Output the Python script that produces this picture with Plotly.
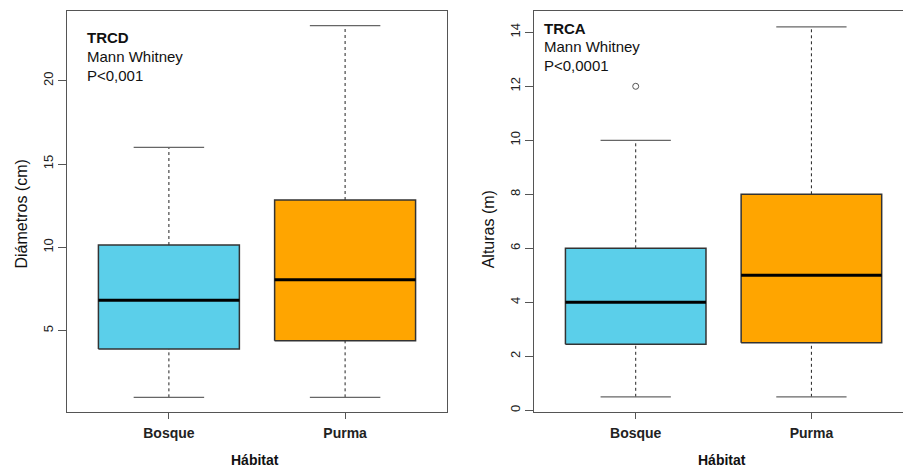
import plotly.graph_objects as go

# ---- data ----
categories = ["Bosque", "Purma"]
colors = ["#5BCFEA", "#FFA500"]

# TRCD: diameters (cm)
d_lower = [1.0, 1.0]
d_q1 = [3.9, 4.4]
d_median = [6.82, 8.06]
d_q3 = [10.14, 12.84]
d_upper = [16.0, 23.3]
d_outliers = [[], []]

# TRCA: heights (m)
h_lower = [0.5, 0.5]
h_q1 = [2.45, 2.5]
h_median = [4.0, 5.0]
h_q3 = [6.0, 8.0]
h_upper = [10.0, 14.2]
h_outliers = [[12.0], []]

BOX_W = 0.8
FONT = "Liberation Sans, Arial, sans-serif"

fig = go.Figure()


def add_panel(xa, ya, lower, q1, med, q3, upper, outliers):
    for i, cat in enumerate(categories):
        c = i + 1
        hw = BOX_W / 2
        # whiskers (dashed)
        for a, b in ((q3[i], upper[i]), (lower[i], q1[i])):
            fig.add_trace(go.Scatter(x=[c, c], y=[a, b], mode="lines",
                                     line=dict(color="#222", width=1, dash="3px,3px"),
                                     xaxis=xa, yaxis=ya, showlegend=False, hoverinfo="skip"))
        # caps
        for v in (upper[i], lower[i]):
            fig.add_trace(go.Scatter(x=[c - hw / 2, c + hw / 2], y=[v, v], mode="lines",
                                     line=dict(color="#666", width=1.2),
                                     xaxis=xa, yaxis=ya, showlegend=False, hoverinfo="skip"))
        # box
        fig.add_trace(go.Scatter(x=[c - hw, c + hw, c + hw, c - hw, c - hw],
                                 y=[q1[i], q1[i], q3[i], q3[i], q1[i]],
                                 mode="lines", fill="toself", fillcolor=colors[i],
                                 line=dict(color="#333", width=1.5),
                                 xaxis=xa, yaxis=ya, showlegend=False, name=cat))
        # median
        fig.add_trace(go.Scatter(x=[c - hw, c + hw], y=[med[i], med[i]], mode="lines",
                                 line=dict(color="#000", width=3),
                                 xaxis=xa, yaxis=ya, showlegend=False, hoverinfo="skip"))
        if outliers[i]:
            fig.add_trace(go.Scatter(x=[c] * len(outliers[i]), y=outliers[i], mode="markers",
                                     marker=dict(symbol="circle-open", size=6, color="#555",
                                                 line=dict(width=1)),
                                     xaxis=xa, yaxis=ya, showlegend=False))


add_panel("x", "y", d_lower, d_q1, d_median, d_q3, d_upper, d_outliers)
add_panel("x2", "y2", h_lower, h_q1, h_median, h_q3, h_upper, h_outliers)

W, H = 903, 468
L_LEFT, L_RIGHT = 66.7, 447.3
R_LEFT = 533.8
unit_r = 175.7

xcommon = dict(tickvals=[1, 2], ticktext=categories, showline=True, linecolor="#555",
               linewidth=1, ticks="outside", ticklen=6, tickcolor="#555", showgrid=False,
               zeroline=False, ticklabelstandoff=2,
               tickfont=dict(family=FONT, size=14, color="#222", weight="bold"))
ycommon = dict(showline=True, linecolor="#555", linewidth=1, ticks="outside", ticklen=8,
               tickcolor="#555", showgrid=False, zeroline=False, tickangle=-90,
               tickfont=dict(family=FONT, size=13, color="#222"))

fig.update_layout(
    width=W, height=H,
    margin=dict(l=0, r=0, t=11, b=56),
    paper_bgcolor="white", plot_bgcolor="white",
    xaxis=dict(domain=[L_LEFT / W, L_RIGHT / W], range=[0.42, 2.58], mirror=True, **xcommon),
    yaxis=dict(range=[0.12, 24.18], tick0=0, dtick=5, mirror=True, **ycommon),
    xaxis2=dict(domain=[R_LEFT / W, 1.0], range=[0.42, 0.42 + (W - R_LEFT) / unit_r],
                mirror=True, anchor="y2", **xcommon),
    yaxis2=dict(range=[-0.063, 14.789], tick0=0, dtick=2, mirror=False, anchor="x2", **ycommon),
)


def py(ypx):
    return (412 - ypx) / 401


ann = []
# stat labels
for x0, ys, lines in ((85, (37.7, 56.7, 75.0), ("<b>TRCD</b>", "Mann Whitney", "P&lt;0,001")),
                      (541.7, (28.3, 46.7, 65.0), ("<b>TRCA</b>", "Mann Whitney", "P&lt;0,0001"))):
    for yy, t in zip(ys, lines):
        ann.append(dict(x=x0 / W, y=py(yy), xref="paper", yref="paper", text=t, showarrow=False,
                        xanchor="left", yanchor="middle", font=dict(family=FONT, size=15, color="#111")))
# axis titles
ann.append(dict(x=21 / W, y=py(214.5), xref="paper", yref="paper", text="Diámetros (cm)",
                textangle=-90, showarrow=False, xanchor="center", yanchor="middle",
                font=dict(family=FONT, size=16, color="#111")))
ann.append(dict(x=488.3 / W, y=py(229), xref="paper", yref="paper", text="Alturas (m)",
                textangle=-90, showarrow=False, xanchor="center", yanchor="middle",
                font=dict(family=FONT, size=16, color="#111")))
ann.append(dict(x=255 / W, y=py(460), xref="paper", yref="paper", text="<b>Hábitat</b>",
                showarrow=False, xanchor="center", yanchor="middle",
                font=dict(family=FONT, size=14, color="#111")))
ann.append(dict(x=721.7 / W, y=py(460), xref="paper", yref="paper", text="<b>Hábitat</b>",
                showarrow=False, xanchor="center", yanchor="middle",
                font=dict(family=FONT, size=14, color="#111")))
fig.update_layout(annotations=ann)

fig.write_html("out.html", config={"displayModeBar": False},
               post_script="document.body.style.margin='0';document.body.style.overflow='hidden';")
